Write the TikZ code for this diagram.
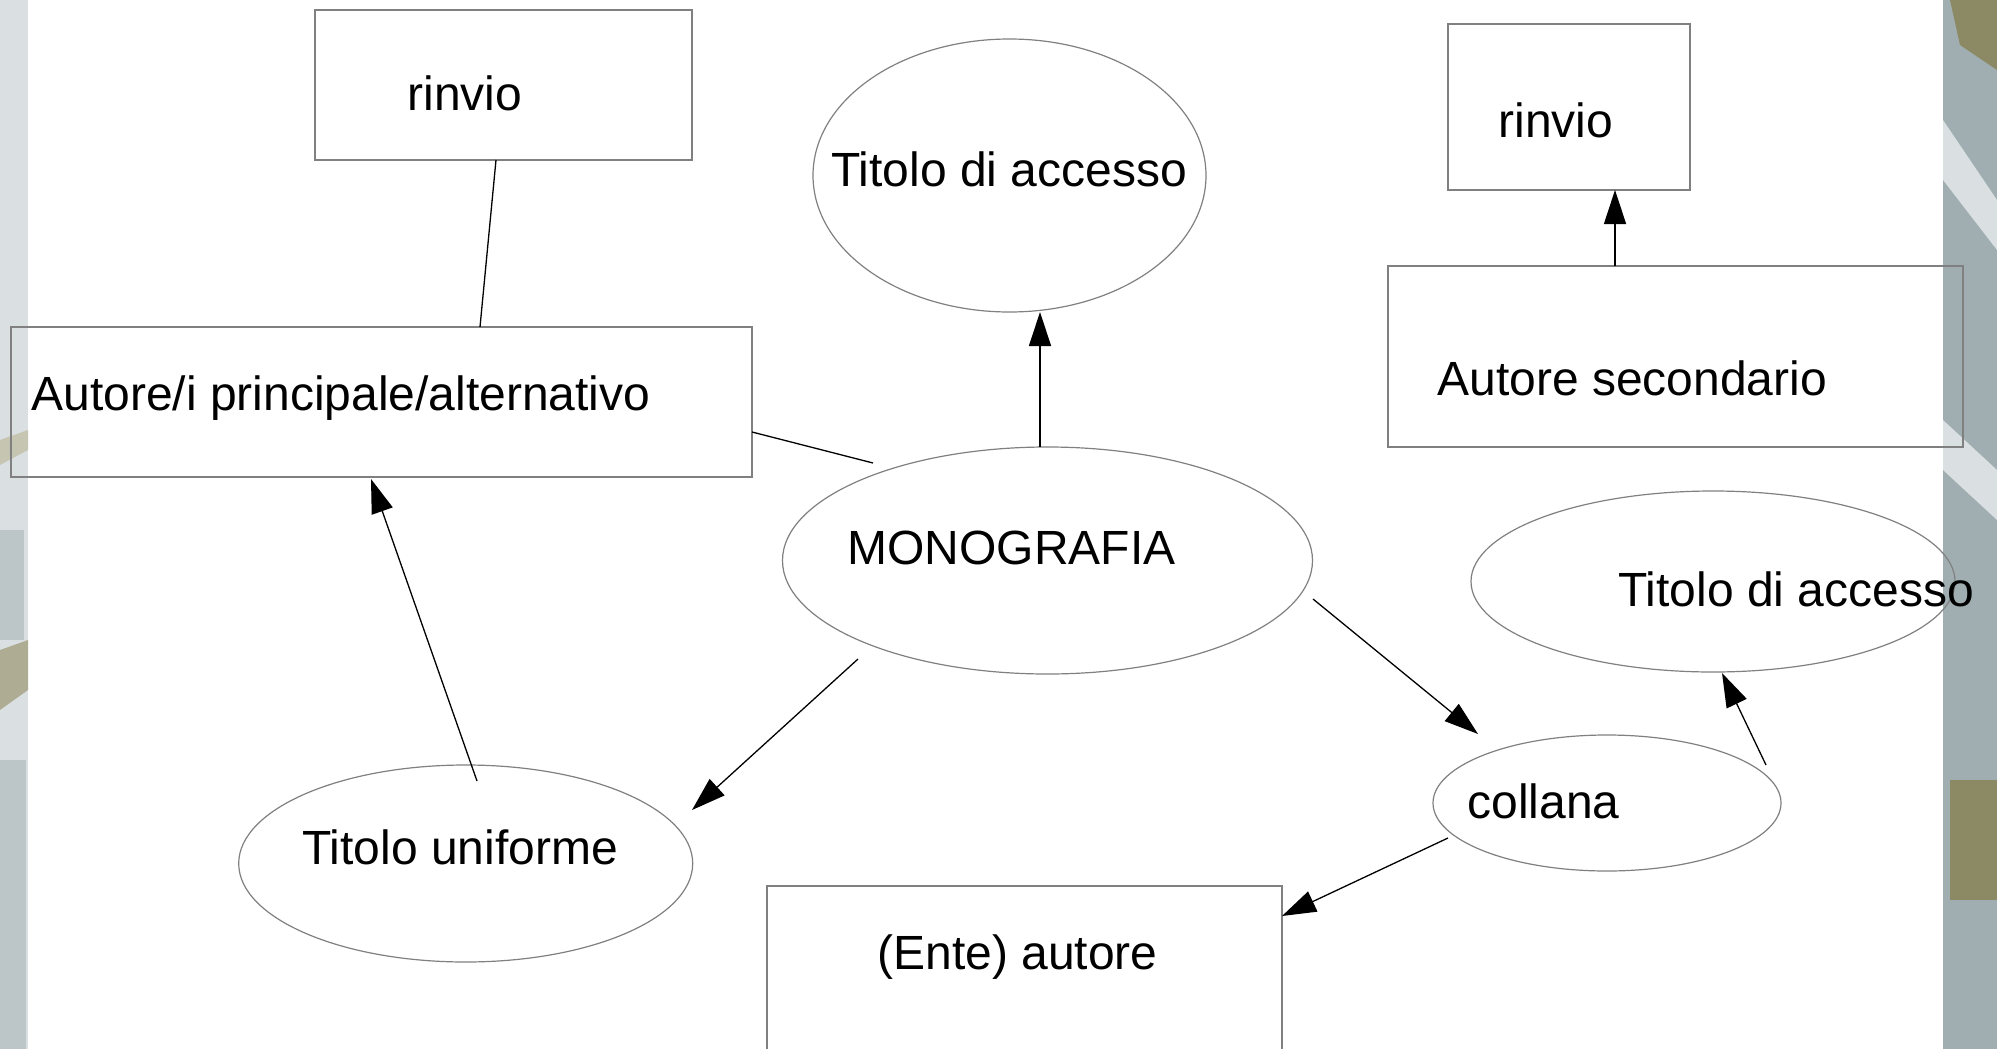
\documentclass[tikz,border=0pt]{standalone}
\usepackage{fontspec}
\setmainfont{Liberation Sans}
\usetikzlibrary{arrows.meta,shapes.geometric,calc}
\definecolor{bordergray}{RGB}{128,128,128}
\definecolor{bgl}{RGB}{218,224,226}
\definecolor{bgm}{RGB}{160,174,178}
\definecolor{bgo}{RGB}{140,138,100}
\begin{document}
\begin{tikzpicture}[x=0.5pt,y=-0.5pt,
  box/.style={draw=bordergray,line width=0.6pt,rectangle,inner sep=0pt,outer sep=0pt},
  oval/.style={draw=bordergray,line width=0.6pt,ellipse,inner sep=0pt,outer sep=0pt},
  lbl/.style={anchor=base west,inner sep=0pt,font=\fontsize{24pt}{28pt}\selectfont},
  conn/.style={line width=0.65pt,black},
  arr/.style={conn,-{Triangle[length=17pt,width=11pt]}}]
\clip (0,0) rectangle (1997,1049);
\fill[white] (0,0) rectangle (1997,1049);
% decorative background strips
\fill[bgl] (0,0) rectangle (28,1049);
\fill[bgo!50] (0,440) -- (28,430) -- (28,450) -- (0,465) -- cycle;
\fill[bgm!70] (0,530) rectangle (24,640);
\fill[bgo!70] (0,650) -- (28,640) -- (28,690) -- (0,710) -- cycle;
\fill[bgm!70] (0,760) rectangle (26,1049);
\fill[bgm] (1943,0) rectangle (1997,1049);
\fill[bgo] (1950,0) -- (1997,0) -- (1997,70) -- (1960,45) -- cycle;
\fill[bgl] (1943,120) -- (1997,200) -- (1997,250) -- (1943,180) -- cycle;
\fill[bgl] (1943,420) -- (1997,470) -- (1997,520) -- (1943,470) -- cycle;
\fill[bgo] (1950,780) rectangle (1997,900);

% shapes
\node[box,minimum width=188.5pt,minimum height=75pt] (r1) at (503.5,85) {};
\node[oval,minimum width=196.5pt,minimum height=136.5pt] (t1) at (1009.5,175.5) {};
\node[box,minimum width=370.5pt,minimum height=75pt] (a1) at (381.5,402) {};
\node[oval,minimum width=265pt,minimum height=113.5pt] (mono) at (1047.5,560.5) {};
\node[box,minimum width=121pt,minimum height=83pt] (r2) at (1569,107) {};
\node[box,minimum width=287.5pt,minimum height=90.5pt] (a2) at (1675.5,356.5) {};
\node[oval,minimum width=242pt,minimum height=90.5pt] (t2) at (1713,581.5) {};
\node[oval,minimum width=174pt,minimum height=68pt] (col) at (1607,803) {};
\node[oval,minimum width=227pt,minimum height=98.5pt] (tu) at (465.7,863.5) {};
\node[box,minimum width=257.5pt,minimum height=107pt] (ente) at (1024.5,993) {};

% texts
\node[lbl] (r1t) at (407,110) {rinvio};
\node[lbl] (t1t) at (831,186) {Titolo di accesso};
\node[lbl] (a1t) at (31,410) {Autore/i principale/alternativo};
\node[lbl] (monot) at (847,564) {MONOGRAFIA};
\node[lbl] (r2t) at (1498,137) {rinvio};
\node[lbl] (a2t) at (1437,395) {Autore secondario};
\node[lbl] (t2t) at (1618,606) {Titolo di accesso};
\node[lbl] (colt) at (1467,818) {collana};
\node[lbl] (tut) at (302,864) {Titolo uniforme};
\node[lbl] (entet) at (877,969) {(Ente) autore};

% connector end points
\coordinate (p1) at (496,160);
\coordinate (p2) at (480,327);
\coordinate (p3) at (752,432);
\coordinate (p4) at (873,463);
\coordinate (p5) at (1040,447);
\coordinate (p6) at (1040,312);
\coordinate (p7) at (858,659);
\coordinate (p8) at (692,810);
\coordinate (p9) at (477,781);
\coordinate (p10) at (371,479);
\coordinate (p11) at (1313,599);
\coordinate (p12) at (1478,734);
\coordinate (p13) at (1448,838);
\coordinate (p14) at (1282,916);
\coordinate (p15) at (1766,765);
\coordinate (p16) at (1722,673);
\coordinate (p17) at (1615,266);
\coordinate (p18) at (1615,190);

\draw[conn] (p1) -- (p2);
\draw[conn] (p3) -- (p4);
\draw[arr] (p5) -- (p6);
\draw[arr] (p7) -- (p8);
\draw[arr] (p9) -- (p10);
\draw[arr] (p11) -- (p12);
\draw[arr] (p13) -- (p14);
\draw[arr] (p15) -- (p16);
\draw[arr] (p17) -- (p18);
\end{tikzpicture}
\end{document}
